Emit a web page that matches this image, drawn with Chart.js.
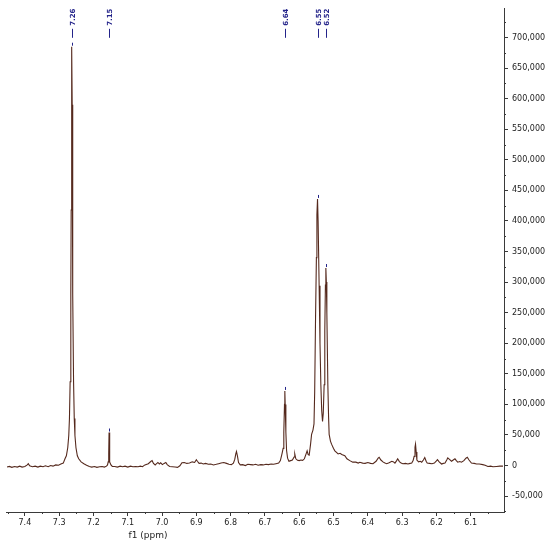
<!DOCTYPE html>
<html>
<head>
<meta charset="utf-8">
<script src="https://cdn.jsdelivr.net/npm/chart.js@4"></script>
<style>
  body { margin: 0; background: #fff; }
  #wrap { width: 550px; height: 544px; }
</style>
</head>
<body>
<div id="wrap"><canvas id="nmr"></canvas></div>
<script>
// chemical shift (ppm) and intensity
const ppm = [
  7.452, 7.445, 7.438, 7.430, 7.422, 7.415, 7.408, 7.400, 7.393, 7.390, 7.386, 7.378, 7.370, 7.362, 7.355, 7.347,
  7.340, 7.332, 7.325, 7.318, 7.310, 7.302, 7.295, 7.288, 7.283, 7.279, 7.275, 7.272, 7.270, 7.268, 7.266, 7.265,
  7.264, 7.263, 7.262, 7.261, 7.260, 7.258, 7.256, 7.254, 7.251, 7.247, 7.243, 7.236, 7.228, 7.220, 7.212, 7.205,
  7.197, 7.190, 7.182, 7.175, 7.168, 7.162, 7.159, 7.157, 7.1555, 7.1545, 7.1535, 7.152, 7.149, 7.145, 7.138, 7.130,
  7.122, 7.115, 7.108, 7.100, 7.092, 7.085, 7.077, 7.070, 7.063, 7.057, 7.050, 7.040, 7.033, 7.029, 7.025, 7.020,
  7.016, 7.012, 7.008, 7.004, 6.999, 6.994, 6.989, 6.985, 6.978, 6.970, 6.962, 6.955, 6.948, 6.942, 6.935, 6.928,
  6.920, 6.912, 6.905, 6.900, 6.897, 6.892, 6.886, 6.880, 6.873, 6.865, 6.858, 6.850, 6.842, 6.835, 6.828, 6.820,
  6.812, 6.805, 6.798, 6.792, 6.788, 6.785, 6.783, 6.780, 6.777, 6.772, 6.765, 6.757, 6.750, 6.742, 6.735, 6.727,
  6.720, 6.712, 6.705, 6.697, 6.690, 6.682, 6.675, 6.668, 6.660, 6.655, 6.650, 6.647, 6.645, 6.643, 6.642, 6.641,
  6.639, 6.637, 6.634, 6.630, 6.625, 6.620, 6.615, 6.613, 6.610, 6.605, 6.600, 6.595, 6.590, 6.585, 6.580, 6.577,
  6.574, 6.571, 6.567, 6.564, 6.560, 6.557, 6.555, 6.5525, 6.550, 6.5485, 6.5467, 6.545, 6.542, 6.5395, 6.537, 6.5345,
  6.5321, 6.530, 6.5274, 6.5255, 6.5237, 6.5224, 6.521, 6.5195, 6.5166, 6.5145, 6.5128, 6.509, 6.5058, 6.500, 6.4962, 6.4866,
  6.481, 6.476, 6.4671, 6.461, 6.4525, 6.444, 6.435, 6.428, 6.4233, 6.415, 6.408, 6.400, 6.392, 6.385, 6.376, 6.370,
  6.367, 6.362, 6.355, 6.350, 6.345, 6.338, 6.330, 6.325, 6.321, 6.316, 6.313, 6.308, 6.303, 6.298, 6.290, 6.283,
  6.277, 6.272, 6.268, 6.265, 6.2625, 6.261, 6.259, 6.257, 6.252, 6.247, 6.243, 6.238, 6.234, 6.230, 6.227, 6.220,
  6.213, 6.206, 6.200, 6.197, 6.192, 6.185, 6.180, 6.175, 6.170, 6.167, 6.162, 6.156, 6.151, 6.146, 6.142, 6.138,
  6.132, 6.127, 6.120, 6.114, 6.110, 6.105, 6.098, 6.090, 6.083, 6.075, 6.065, 6.058, 6.050, 6.042, 6.035, 6.025,
  6.015, 6.006
];
const intensity = [
  -2500, -1500, -3000, -1500, -2500, -1000, -2500, -1500, 1000, 3000, -500, -2000, -1000, -2500, -1000, -2000,
  -500, -2000, 0, -1000, 1000, 500, 2500, 4000, 11000, 16000, 29000, 49000, 77000, 137000, 281000, 418000,
  590000, 685000, 590000, 418000, 281000, 137000, 77000, 49000, 29000, 16000, 11000, 6000, 3000, 500, -1500, -2500,
  -1500, -3000, -2000, -1500, -2500, -1000, 1000, 6000, 20000, 54000, 20000, 6000, 1000, -1500, -1500, -2500,
  -1000, -2000, -1000, -2500, -1000, -2000, -1500, -2000, -1000, -2000, 1000, 3000, 6500, 8000, 3500, 1000,
  3000, 5000, 2500, 4500, 1500, 3500, 5000, 1500, -1500, -2000, -2500, -3000, -500, 4500, 5000, 3500,
  4000, 6000, 5000, 9500, 7000, 3500, 4000, 2500, 3500, 2000, 2500, 1000, 2000, 3000, 4000, 5000,
  3500, 2000, 1500, 4000, 10000, 19000, 23000, 15000, 5000, 1000, 1500, 0, 2000, 1500, 1000, 2000,
  500, 1500, 1000, 2000, 1500, 2500, 2000, 3000, 4000, 8000, 20000, 28000, 55000, 100000, 122000, 100000,
  55000, 25000, 12000, 7000, 8000, 9000, 14000, 19000, 11000, 8500, 8000, 9000, 8500, 11000, 19000, 24000,
  18000, 17000, 35000, 51000, 58000, 68000, 120000, 240000, 340000, 410000, 436000, 400000, 294000, 200000, 132000, 90000,
  72000, 85000, 132000, 220000, 295000, 323000, 300000, 250000, 132000, 80000, 51000, 40000, 35000, 28000, 24000, 19000,
  20000, 18000, 16000, 11000, 8000, 5500, 5500, 4000, 5400, 4000, 3500, 5000, 3500, 3000, 7000, 12000,
  13500, 9000, 5500, 4000, 3000, 4500, 7000, 6000, 4000, 8000, 11000, 6500, 4000, 3000, 3500, 2500,
  3500, 4000, 8000, 15000, 30000, 35000, 22000, 9000, 6000, 7000, 5500, 9000, 13000, 7000, 4000, 3500,
  3000, 4000, 7500, 9500, 6000, 2500, 3500, 4000, 9000, 12500, 10000, 7000, 9000, 11000, 8000, 5500,
  6500, 5500, 8000, 12000, 13500, 9000, 4000, 3500, 2500, 2500, 1500, 500, -1500, -1000, -2000, -1500,
  -1000, -1000
];

// axis ticks
const xTicks = [7.4, 7.3, 7.2, 7.1, 7.0, 6.9, 6.8, 6.7, 6.6, 6.5, 6.4, 6.3, 6.2, 6.1];
const yTicks = [-50000, 0, 50000, 100000, 150000, 200000, 250000, 300000, 350000, 400000,
  450000, 500000, 550000, 600000, 650000, 700000];

// picked peaks
const peakLabels = ['7.26', '7.15', '6.64', '6.55', '6.52'];
const peakPpm = [7.263, 7.1545, 6.642, 6.5467, 6.5224];
const peakHeight = [685000, 54000, 122000, 436000, 323000];

const fontFam = "'DejaVu Sans', Verdana, sans-serif";
const axisCol = '#3a3a3a';
const labelCol = '#24248a';

const points = ppm.map((p, i) => ({ x: p, y: intensity[i] }));

const extras = {
  id: 'extras',
  afterDraw(chart) {
    const c = chart.ctx;
    const xs = chart.scales.x;
    const ys = chart.scales.y;
    const a = chart.chartArea;
    c.save();
    // minor ticks halfway between the labelled ones
    c.strokeStyle = axisCol;
    c.lineWidth = 1;
    c.beginPath();
    for (let i = 0; i <= xTicks.length; i++) {
      const v = i < xTicks.length ? xTicks[i] + 0.05 : xTicks[i - 1] - 0.05;
      const px = Math.round(xs.getPixelForValue(v)) + 0.5;
      c.moveTo(px, a.bottom);
      c.lineTo(px, a.bottom + 2);
    }
    for (let i = 0; i <= yTicks.length; i++) {
      const v = i < yTicks.length ? yTicks[i] - 25000 : yTicks[i - 1] + 25000;
      const py = Math.round(ys.getPixelForValue(v)) + 0.5;
      c.moveTo(a.right, py);
      c.lineTo(a.right + 2, py);
    }
    c.stroke();

    // peak labels
    c.strokeStyle = labelCol;
    c.fillStyle = labelCol;
    c.font = 'bold 7px ' + fontFam;
    peakLabels.forEach((lab, i) => {
      const px = Math.round(xs.getPixelForValue(peakPpm[i])) + 0.5;
      c.beginPath();
      c.moveTo(px, a.top + 20);
      c.lineTo(px, a.top + 29);
      c.stroke();
      const top = ys.getPixelForValue(peakHeight[i]);
      c.beginPath();
      c.moveTo(px, top - 4);
      c.lineTo(px, top - 1);
      c.stroke();
      c.save();
      c.translate(px + 2.5, a.top + 17);
      c.rotate(-Math.PI / 2);
      c.textAlign = 'left';
      c.textBaseline = 'alphabetic';
      c.fillText(lab, 0, 0);
      c.restore();
    });

    // axis title
    c.fillStyle = '#222';
    c.font = '9px ' + fontFam;
    c.textAlign = 'center';
    c.textBaseline = 'top';
    c.fillText('f1 (ppm)', xs.getPixelForValue(7.041), a.bottom + 19);
    c.restore();
  }
};

new Chart(document.getElementById('nmr'), {
  type: 'line',
  data: {
    datasets: [{
      data: points,
      borderColor: '#55291d',
      borderWidth: 1.1,
      pointRadius: 0,
      tension: 0,
      fill: false
    }]
  },
  options: {
    responsive: true,
    maintainAspectRatio: false,
    animation: false,
    layout: { padding: { left: 6, top: 4, right: 0, bottom: 0 } },
    plugins: { legend: { display: false }, tooltip: { enabled: false } },
    scales: {
      x: {
        type: 'linear',
        reverse: true,
        min: 6.003,
        max: 7.455,
        afterFit: (s) => { s.height = 32; },
        afterBuildTicks: (s) => { s.ticks = xTicks.map(v => ({ value: v })); },
        grid: { drawOnChartArea: false, tickLength: 4, color: axisCol },
        border: { display: true, color: axisCol },
        ticks: {
          autoSkip: false,
          maxRotation: 0,
          padding: 2,
          color: '#222',
          font: { family: fontFam, size: 8 },
          callback: (v) => Number(v).toFixed(1)
        }
      },
      y: {
        type: 'linear',
        position: 'right',
        min: -76000,
        max: 747000,
        afterFit: (s) => { s.width = 46; },
        afterBuildTicks: (s) => { s.ticks = yTicks.map(v => ({ value: v })); },
        grid: { drawOnChartArea: false, tickLength: 4, color: axisCol },
        border: { display: true, color: axisCol },
        ticks: {
          autoSkip: false,
          padding: 4,
          color: '#222',
          font: { family: fontFam, size: 8 },
          callback: (v) => Number(v).toLocaleString('en-US')
        }
      }
    }
  },
  plugins: [extras]
});
</script>
</body>
</html>
